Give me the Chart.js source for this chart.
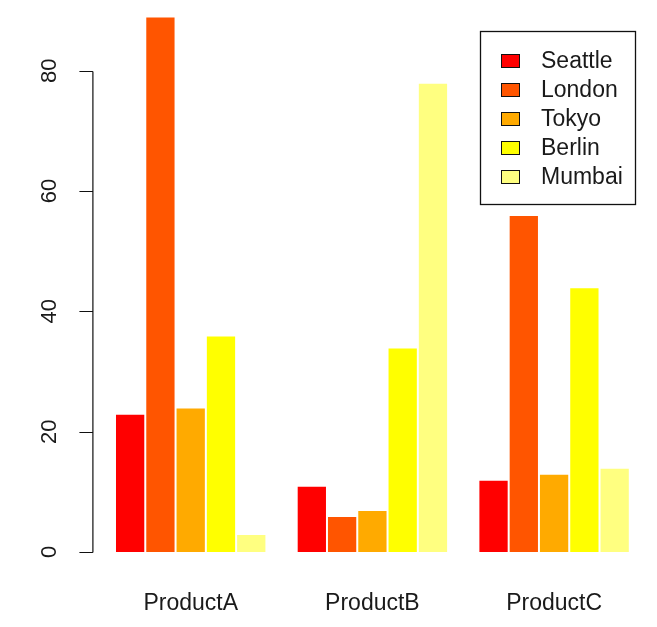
<!DOCTYPE html>
<html>
<head>
<meta charset="utf-8">
<script src="https://cdn.jsdelivr.net/npm/chart.js@4/dist/chart.umd.min.js"></script>
<style>
  html, body { margin: 0; padding: 0; background: #fff; }
  #chart { display: block; }
</style>
</head>
<body>
<canvas id="chart" width="657" height="627"></canvas>
<script>
const categories = ["ProductA", "ProductB", "ProductC"];
const cities = ["Seattle", "London", "Tokyo", "Berlin", "Mumbai"];
const seattle = [23, 11, 12];
const london = [89, 6, 56];
const tokyo = [24, 7, 13];
const berlin = [36, 34, 44];
const mumbai = [3, 78, 14];
const yTicks = [0, 20, 40, 60, 80];

const colors = ["#FF0000", "#FF5500", "#FFAA00", "#FFFF00", "#FFFF80"];
const series = [seattle, london, tokyo, berlin, mumbai];
const fontFamily = "'Liberation Sans', Arial, sans-serif";
const textColor = "#1a1a1a";

const datasets = series.map((values, i) => ({
  label: cities[i],
  data: values.map((v, j) => ({ x: j, y: v })),
  backgroundColor: colors[i],
  borderColor: "#ffffff",
  borderWidth: 1,
  categoryPercentage: 5 / 6,
  barPercentage: 1,
}));

// R-style axis (line only from 0 to 80, rotated labels) and boxed legend
const rAxisAndLegend = {
  id: "rAxisAndLegend",
  afterDraw(chart) {
    const ctx = chart.ctx;
    const y = chart.scales.y;
    const axisX = chart.chartArea.left - 2;
    ctx.save();
    ctx.strokeStyle = "#111";
    ctx.lineWidth = 1.2;
    ctx.beginPath();
    ctx.moveTo(axisX + 0.5, Math.round(y.getPixelForValue(yTicks[0])) + 0.5);
    ctx.lineTo(axisX + 0.5, Math.round(y.getPixelForValue(yTicks[yTicks.length - 1])) + 0.5);
    yTicks.forEach((t) => {
      const py = Math.round(y.getPixelForValue(t)) + 0.5;
      ctx.moveTo(axisX - 13, py);
      ctx.lineTo(axisX + 0.5, py);
    });
    ctx.stroke();

    ctx.fillStyle = textColor;
    ctx.font = "22px " + fontFamily;
    ctx.textAlign = "center";
    ctx.textBaseline = "middle";
    yTicks.forEach((t) => {
      ctx.save();
      ctx.translate(50, y.getPixelForValue(t));
      ctx.rotate(-Math.PI / 2);
      ctx.fillText(String(t), 0, 0);
      ctx.restore();
    });

    // legend
    ctx.font = "23px " + fontFamily;
    ctx.strokeStyle = "#111";
    ctx.lineWidth = 1.3;
    ctx.strokeRect(480.5, 31.5, 155, 173);
    ctx.textAlign = "left";
    chart.data.datasets.forEach((ds, i) => {
      const cy = 61 + i * 29;
      ctx.fillStyle = ds.backgroundColor;
      ctx.fillRect(501, cy - 7, 19, 14);
      ctx.lineWidth = 1;
      ctx.strokeRect(501.5, cy - 6.5, 18, 13);
      ctx.fillStyle = textColor;
      ctx.fillText(ds.label, 541, cy + 1);
    });
    ctx.restore();
  },
};

new Chart(document.getElementById("chart"), {
  type: "bar",
  data: { datasets: datasets },
  plugins: [rAxisAndLegend],
  options: {
    responsive: false,
    animation: false,
    devicePixelRatio: 1,
    layout: { padding: { left: 0, right: 6.6, top: 0, bottom: 0 } },
    plugins: {
      legend: { display: false },
      tooltip: { enabled: false },
    },
    scales: {
      x: {
        type: "linear",
        offset: false,
        min: -0.53,
        max: 2.53,
        grid: { display: false, drawTicks: false },
        border: { display: false },
        afterBuildTicks: (scale) => {
          scale.ticks = categories.map((c, i) => ({ value: i }));
        },
        afterFit: (scale) => {
          scale.height = 53.6;
        },
        ticks: {
          padding: 16,
          color: textColor,
          font: { family: fontFamily, size: 23 },
          callback: (v) => categories[v],
        },
      },
      y: {
        min: -3.56,
        max: 91.76,
        grid: { display: false, drawTicks: false },
        border: { display: false },
        afterBuildTicks: (scale) => {
          scale.ticks = yTicks.map((t) => ({ value: t }));
        },
        afterFit: (scale) => {
          scale.width = 94.4;
        },
        ticks: { display: false },
      },
    },
  },
});
</script>
</body>
</html>
